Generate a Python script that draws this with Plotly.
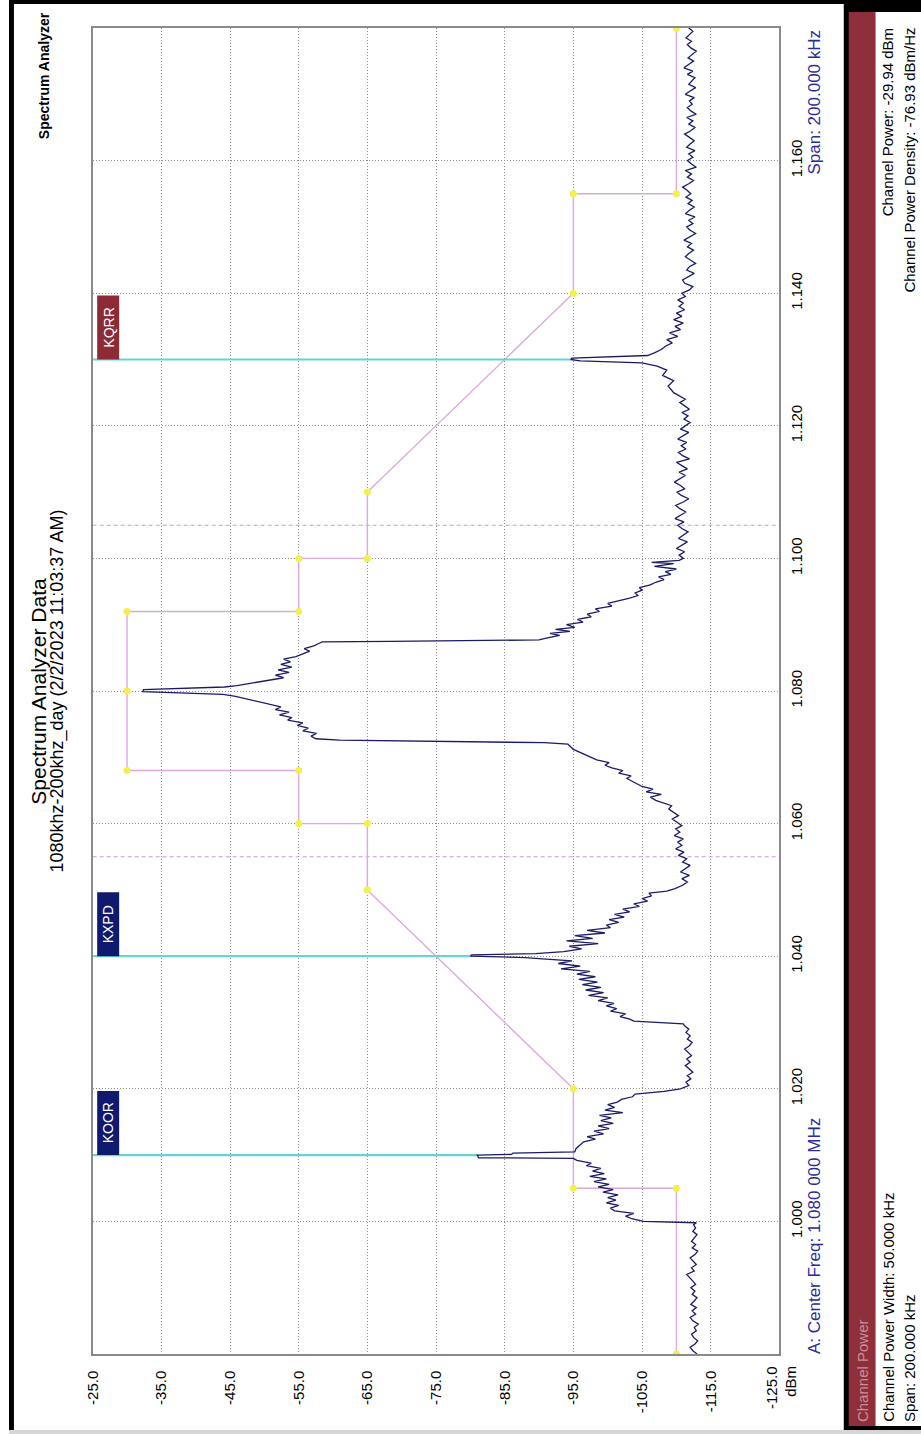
import plotly.graph_objects as go

W, H = 921, 1434

# ---- spectrum trace, piece by piece: frequency (MHz) and level (dBm) ----
# noise floor below the band
FLOOR_LOW_F = [0.9800, 0.9805, 0.9810, 0.9815, 0.9820, 0.9825, 0.9830, 0.9835, 0.9840, 0.9845,
               0.9850, 0.9855, 0.9860, 0.9865, 0.9870, 0.9875, 0.9880, 0.9885, 0.9890, 0.9895,
               0.9900, 0.9905, 0.9910, 0.9915, 0.9920, 0.9925, 0.9930, 0.9935, 0.9940, 0.9945,
               0.9950, 0.9955, 0.9960, 0.9965, 0.9970, 0.9975, 0.9980, 0.9985, 0.9990, 0.9995,
               0.9998]
FLOOR_LOW_DB = [-113.0, -112.4, -112.0, -112.7, -113.1, -112.5, -112.2, -112.9, -112.6, -113.2,
                -112.4, -112.0, -112.8, -112.3, -112.9, -112.1, -112.6, -113.0, -112.3, -112.7,
                -112.1, -112.8, -112.4, -111.9, -111.5, -112.6, -112.2, -112.9, -112.4, -112.0,
                -112.7, -113.1, -112.3, -112.8, -112.2, -112.6, -113.0, -112.4, -112.8, -112.5,
                -112.9]

# KOOR band
KOOR_F = [1.0000, 1.0004, 1.0008, 1.0012, 1.0016, 1.0020, 1.0024, 1.0028, 1.0032, 1.0036,
          1.0040, 1.0044, 1.0048, 1.0052, 1.0056, 1.0060, 1.0064, 1.0068, 1.0072, 1.0076,
          1.0080, 1.0084, 1.0088, 1.0092,
          1.0095, 1.0096, 1.0100, 1.0101, 1.0103, 1.0105, 1.0110, 1.0115, 1.0120,
          1.0124, 1.0128, 1.0132, 1.0136, 1.0140, 1.0144, 1.0148, 1.0152, 1.0156, 1.0160,
          1.0164, 1.0168, 1.0172, 1.0176, 1.0180, 1.0184, 1.0188, 1.0192, 1.0196, 1.0200]
KOOR_DB = [-105.2, -103.5, -102.6, -103.8, -101.0, -100.4, -101.6, -99.8, -101.2, -100.0,
           -101.5, -99.3, -100.8, -98.6, -100.2, -98.0, -99.8, -97.4, -99.5, -97.8,
           -99.0, -96.9, -97.6, -95.5,
           -95.0, -81.2, -81.0, -86.0, -86.2, -95.2, -95.4, -96.0, -96.5,
           -98.2, -97.0, -99.4, -98.0, -100.2, -98.6, -100.8, -99.0, -100.5, -98.8,
           -102.2, -99.6, -101.0, -100.0, -101.4, -102.0, -103.6, -104.0, -108.2, -110.6]

# floor between KOOR and KXPD
FLOOR_1_F = [1.0205, 1.0210, 1.0215, 1.0220, 1.0225, 1.0230, 1.0235, 1.0240, 1.0245, 1.0250,
             1.0255, 1.0260, 1.0265, 1.0270, 1.0275, 1.0280, 1.0285, 1.0290, 1.0295, 1.0298]
FLOOR_1_DB = [-111.8, -111.4, -112.1, -111.6, -112.4, -111.9, -111.3, -112.0, -111.5, -112.2,
              -111.7, -111.2, -111.9, -112.3, -111.6, -112.0, -111.4, -111.8, -111.2, -111.0]

# KXPD band
KXPD_F = [1.0302,
          1.0305, 1.0309, 1.0313, 1.0317, 1.0321, 1.0325, 1.0329, 1.0333, 1.0337, 1.0341,
          1.0345, 1.0349, 1.0353, 1.0357, 1.0361, 1.0365, 1.0369, 1.0373, 1.0377, 1.0381,
          1.0385, 1.0389, 1.0393,
          1.0396, 1.0398, 1.0400, 1.0402, 1.0404, 1.0407,
          1.0411, 1.0415, 1.0419, 1.0423, 1.0427, 1.0431, 1.0435, 1.0439, 1.0443, 1.0447,
          1.0451, 1.0455, 1.0459, 1.0463, 1.0467, 1.0471, 1.0475, 1.0479, 1.0483, 1.0487,
          1.0491, 1.0495,
          1.0498]
KXPD_DB = [-103.8,
           -103.2, -101.8, -102.6, -100.4, -101.3, -99.8, -100.9, -98.6, -100.0, -97.2,
           -99.4, -96.8, -99.0, -96.3, -98.5, -95.8, -98.2, -95.5, -97.4, -93.2,
           -96.0, -92.8, -94.8,
           -90.5, -88.0, -80.0, -80.2, -89.5, -93.6,
           -96.2, -94.4, -98.6, -94.0, -97.8, -95.2, -99.6, -97.0, -100.4, -99.8,
           -101.6, -100.2, -102.4, -101.0, -103.2, -102.2, -104.6, -103.8, -105.8, -105.0,
           -106.4, -106.0,
           -108.6]

# floor between KXPD and the centre channel
FLOOR_2_F = [1.0502, 1.0507, 1.0512, 1.0517, 1.0522, 1.0527, 1.0532, 1.0537, 1.0542, 1.0547,
             1.0552, 1.0557, 1.0562, 1.0567, 1.0572, 1.0577, 1.0582, 1.0587, 1.0592, 1.0597,
             1.0602, 1.0607, 1.0612, 1.0617, 1.0622, 1.0627]
FLOOR_2_DB = [-109.8, -110.9, -111.6, -110.8, -111.9, -110.6, -111.4, -112.0, -110.9, -111.5,
              -110.3, -111.1, -109.9, -110.8, -110.2, -111.0, -109.7, -110.5, -109.9, -110.8,
              -110.1, -109.4, -110.3, -109.6, -108.9, -109.3]

# centre channel, 1080 kHz
MAIN_F = [1.0635, 1.0640, 1.0644, 1.0648, 1.0652, 1.0656, 1.0660, 1.0664, 1.0668, 1.0672,
          1.0676, 1.0680, 1.0684, 1.0688, 1.0692, 1.0696, 1.0700, 1.0704, 1.0708, 1.0712,
          1.0716, 1.0720,
          1.0722, 1.0723, 1.0724, 1.0725, 1.0726, 1.0728,
          1.0732, 1.0736, 1.0740, 1.0744, 1.0748, 1.0752, 1.0756, 1.0760, 1.0764, 1.0768,
          1.0772, 1.0776, 1.0780, 1.0784, 1.0788, 1.0792,
          1.0795, 1.0797, 1.0799, 1.0802, 1.0804, 1.0806,
          1.0808, 1.0812, 1.0816, 1.0820, 1.0824, 1.0828, 1.0832, 1.0836, 1.0840, 1.0844,
          1.0848, 1.0852, 1.0856, 1.0860, 1.0864, 1.0868, 1.0872,
          1.0874, 1.0875, 1.0876, 1.0877, 1.0880, 1.0884, 1.0887, 1.0890, 1.0893, 1.0896,
          1.0900, 1.0904, 1.0908, 1.0912, 1.0916, 1.0920, 1.0924, 1.0928, 1.0932, 1.0936,
          1.0940, 1.0944, 1.0948, 1.0952, 1.0956, 1.0960, 1.0964, 1.0968, 1.0972, 1.0976,
          1.0980, 1.0984,
          1.0988, 1.0992, 1.0994, 1.0997]
MAIN_DB = [-107.0, -106.2, -107.8, -105.6, -106.6, -105.0, -104.2, -103.6, -102.8, -103.4,
           -101.6, -102.2, -100.6, -99.6, -100.2, -98.4, -97.6, -96.6, -95.8, -95.0,
           -94.6, -94.2,
           -90.8, -85.0, -78.6, -68.4, -61.0, -57.5,
           -56.8, -57.6, -55.6, -56.4, -54.8, -55.6, -53.4, -54.0, -52.2, -53.6,
           -51.6, -52.4, -50.8, -49.0, -47.2, -45.8,
           -44.0, -38.0, -32.3, -32.4, -40.5, -44.2,
           -46.0, -48.2, -51.0, -52.8, -51.6, -53.6, -52.0, -54.0, -52.4, -53.8,
           -52.8, -54.6, -55.6, -56.6, -55.8, -57.2, -58.0,
           -58.4, -68.4, -78.2, -90.0, -91.2, -93.0, -91.6, -94.5, -92.4, -95.2,
           -94.0, -96.4, -95.6, -97.6, -97.0, -98.8, -98.2, -100.6, -100.0, -101.8,
           -103.2, -104.4, -104.0, -105.0, -104.6, -106.2, -107.0, -108.2, -107.4, -109.2,
           -108.4, -110.0,
           -106.8, -109.6, -106.4, -110.4]

# floor between the centre channel and KQRR
FLOOR_3_F = [1.1000, 1.1005, 1.1010, 1.1015, 1.1020, 1.1025, 1.1030, 1.1035, 1.1040, 1.1045,
             1.1050, 1.1055, 1.1060, 1.1065, 1.1070, 1.1075, 1.1080, 1.1085, 1.1090, 1.1095,
             1.1100, 1.1105, 1.1110, 1.1115, 1.1120, 1.1125, 1.1130, 1.1135, 1.1140, 1.1145,
             1.1150, 1.1155, 1.1160, 1.1165, 1.1170, 1.1175, 1.1180, 1.1185, 1.1190, 1.1195,
             1.1200, 1.1205, 1.1210, 1.1215, 1.1220, 1.1225, 1.1230, 1.1235, 1.1240, 1.1245,
             1.1250]
FLOOR_3_DB = [-111.0, -110.4, -111.2, -110.0, -110.9, -111.6, -110.3, -111.0, -111.7, -110.8,
              -110.2, -111.1, -109.8, -110.6, -111.4, -110.5, -109.9, -111.0, -111.8, -110.7,
              -110.1, -111.2, -110.6, -109.7, -110.5, -111.3, -110.4, -111.6, -110.8, -110.0,
              -111.9, -110.9, -110.3, -111.4, -110.7, -111.5, -110.2, -111.0, -111.8, -110.6,
              -111.3, -112.0, -111.1, -111.7, -110.8, -111.9, -111.2, -110.5, -111.3, -110.4,
              -109.6]

# KQRR
KQRR_F = [1.1260, 1.1268, 1.1276, 1.1284, 1.1290, 1.1295, 1.1298, 1.1300, 1.1302, 1.1304,
          1.1306, 1.1310, 1.1315, 1.1320, 1.1325, 1.1330, 1.1335, 1.1340, 1.1345, 1.1350,
          1.1355, 1.1360, 1.1365, 1.1370, 1.1375, 1.1380, 1.1385]
KQRR_DB = [-108.8, -109.6, -108.0, -108.6, -107.2, -105.0, -96.0, -94.6, -94.8, -102.0,
           -105.8, -106.8, -107.8, -108.4, -109.4, -108.6, -110.2, -109.0, -110.6, -109.8,
           -111.0, -109.6, -110.8, -110.0, -111.2, -110.4, -111.0]

# noise floor above the band
FLOOR_HIGH_F = [1.1390, 1.1395, 1.1400, 1.1405, 1.1410, 1.1415, 1.1420, 1.1425, 1.1430, 1.1435,
                1.1440, 1.1445, 1.1450, 1.1455, 1.1460, 1.1465, 1.1470, 1.1475, 1.1480, 1.1485,
                1.1490, 1.1495, 1.1500, 1.1505, 1.1510, 1.1515, 1.1520, 1.1525, 1.1530, 1.1535,
                1.1540, 1.1545, 1.1550, 1.1555, 1.1560, 1.1565, 1.1570, 1.1575, 1.1580, 1.1585,
                1.1590, 1.1595, 1.1600, 1.1605, 1.1610, 1.1615, 1.1620, 1.1625, 1.1630, 1.1635,
                1.1640, 1.1645, 1.1650, 1.1655, 1.1660, 1.1665, 1.1670, 1.1675, 1.1680, 1.1685,
                1.1690, 1.1695, 1.1700, 1.1705, 1.1710, 1.1715, 1.1720, 1.1725, 1.1730, 1.1735,
                1.1740, 1.1745, 1.1750, 1.1755, 1.1760, 1.1765, 1.1770, 1.1775, 1.1780, 1.1785,
                1.1790, 1.1795, 1.1800]
FLOOR_HIGH_DB = [-110.2, -111.3, -110.8, -111.9, -112.4, -111.2, -110.9, -111.8, -112.6, -111.5,
                 -111.9, -112.8, -112.1, -111.3, -111.8, -112.5, -111.6, -112.2, -111.1, -111.9,
                 -112.8, -112.0, -111.5, -112.4, -111.8, -112.7, -111.3, -111.9, -112.6, -111.7,
                 -112.3, -111.4, -112.1, -111.6, -110.9, -111.8, -112.5, -111.6, -112.2, -111.3,
                 -112.9, -112.2, -111.6, -112.4, -111.8, -112.7, -111.5, -112.0, -112.6, -111.9,
                 -111.2, -112.1, -112.7, -111.8, -112.4, -111.5, -112.9, -112.1, -111.6, -112.3,
                 -111.9, -112.6, -111.3, -112.0, -112.8, -111.8, -112.2, -112.7, -111.6, -112.4,
                 -111.1, -111.9, -112.5, -111.7, -112.3, -112.9, -112.1, -111.6, -112.2, -111.4,
                 -111.9, -112.4, -111.8]

FREQ_MHZ = (FLOOR_LOW_F + KOOR_F + FLOOR_1_F + KXPD_F + FLOOR_2_F + MAIN_F
            + FLOOR_3_F + KQRR_F + FLOOR_HIGH_F)
LEVEL_DBM = (FLOOR_LOW_DB + KOOR_DB + FLOOR_1_DB + KXPD_DB + FLOOR_2_DB + MAIN_DB
             + FLOOR_3_DB + KQRR_DB + FLOOR_HIGH_DB)
assert len(FREQ_MHZ) == len(LEVEL_DBM)

# ---- axes ----
DBM_TICKS = [-25.0, -35.0, -45.0, -55.0, -65.0, -75.0, -85.0, -95.0, -105.0, -115.0, -125.0]
DBM_LABELS = ["-25.0", "-35.0", "-45.0", "-55.0", "-65.0", "-75.0", "-85.0",
              "-95.0", "-105.0", "-115.0", ""]
LAST_DBM_LABEL = "-125.0"
DBM_UNIT = "dBm"
FREQ_TICKS = [1.000, 1.020, 1.040, 1.060, 1.080, 1.100, 1.120, 1.140, 1.160]
FREQ_LABELS = ["1.000", "1.020", "1.040", "1.060", "1.080", "1.100", "1.120", "1.140", "1.160"]
FREQ_RANGE = [0.98, 1.18]
DBM_RANGE = [-25.0, -125.0]

# ---- spectral mask (limit line) ----
MASK_FREQ = [0.980, 1.005, 1.005, 1.020, 1.050, 1.060, 1.060, 1.068, 1.068, 1.080,
             1.092, 1.092, 1.100, 1.100, 1.110, 1.140, 1.155, 1.155, 1.180]
MASK_DBM = [-110, -110, -95, -95, -65, -65, -55, -55, -30, -30,
            -30, -55, -55, -65, -65, -95, -95, -110, -110]

# ---- channel power integration bounds ----
CHANNEL_EDGES = [1.055, 1.105]

# ---- station markers ----
MARKER_NAMES = ["KOOR", "KXPD", "KQRR"]
MARKER_FREQ = [1.010, 1.040, 1.130]
MARKER_DBM = [-81.0, -80.0, -94.6]
MARKER_COLORS = ["#0f1a6e", "#0f1a6e", "#8c2b36"]

# ---- text ----
TITLE = "Spectrum Analyzer Data"
SUBTITLE = "1080khz-200khz_day (2/2/2023 11:03:37 AM)"
APP_TAG = "Spectrum Analyzer"
CENTER_TEXT = "A: Center Freq: 1.080 000 MHz"
SPAN_TEXT = "Span: 200.000 kHz"
PANEL_HEADER = "Channel Power"
PANEL_LEFT = ["Channel Power Width: 50.000 kHz", "Span: 200.000 kHz"]
PANEL_RIGHT = ["Channel Power: -29.94 dBm", "Channel Power Density: -76.93 dBm/Hz"]

FONT = "Liberation Sans, Arial, sans-serif"

# plot frame in pixels (left, top, right, bottom)
PL, PT, PR, PB = 84.5, 28, 778, 1354


def fx(px):
    return px / W


def fy(py):
    return 1 - py / H


fig = go.Figure()

for f in CHANNEL_EDGES:
    fig.add_trace(go.Scatter(x=DBM_RANGE, y=[f, f], mode="lines",
                             line=dict(color="#d197d4", width=1, dash="4px,3px"),
                             hoverinfo="skip", showlegend=False))

fig.add_trace(go.Scatter(x=MASK_DBM, y=MASK_FREQ, mode="lines",
                         line=dict(color="#dba9de", width=1.4),
                         hoverinfo="skip", showlegend=False))

for f, p in zip(MARKER_FREQ, MARKER_DBM):
    fig.add_trace(go.Scatter(x=[DBM_RANGE[0], p], y=[f, f], mode="lines",
                             line=dict(color="#66d3d8", width=2.2),
                             hoverinfo="skip", showlegend=False))

fig.add_trace(go.Scatter(x=LEVEL_DBM, y=FREQ_MHZ, mode="lines",
                         line=dict(color="#1b1b68", width=1.3),
                         showlegend=False))

fig.add_trace(go.Scatter(x=MASK_DBM, y=MASK_FREQ, mode="markers",
                         marker=dict(color="#f3f04c", size=7),
                         hoverinfo="skip", showlegend=False))

shapes = []
annotations = []

# station label boxes
for name, f, col in zip(MARKER_NAMES, MARKER_FREQ, MARKER_COLORS):
    shapes.append(dict(type="rect", xref="x", yref="y",
                       xsizemode="pixel", ysizemode="pixel",
                       xanchor=DBM_RANGE[0], yanchor=f,
                       x0=4.5, x1=26.5, y0=0, y1=64,
                       fillcolor=col, line=dict(width=0), layer="above"))
    annotations.append(dict(xref="x", yref="y", x=DBM_RANGE[0], y=f,
                            xshift=15.5, yshift=32, text=name, textangle=-90,
                            showarrow=False, xanchor="center", yanchor="middle",
                            font=dict(family=FONT, size=14, color="white")))

# outer frame and right-hand channel power panel
shapes += [
    dict(type="rect", xref="paper", yref="paper", x0=fx(0), x1=fx(5), y0=fy(1430), y1=fy(0),
         fillcolor="black", line=dict(width=0)),
    dict(type="rect", xref="paper", yref="paper", x0=fx(0), x1=fx(W), y0=fy(4), y1=fy(0),
         fillcolor="black", line=dict(width=0)),
    dict(type="rect", xref="paper", yref="paper", x0=fx(0), x1=fx(W), y0=fy(H), y1=fy(1430),
         fillcolor="#d6d6d6", line=dict(width=0)),
    dict(type="rect", xref="paper", yref="paper", x0=fx(843), x1=fx(W), y0=fy(1430), y1=fy(0),
         fillcolor="black", line=dict(width=0)),
    dict(type="rect", xref="paper", yref="paper", x0=fx(848), x1=fx(875), y0=fy(1426), y1=fy(12),
         fillcolor="#8e2f3b", line=dict(width=0)),
    dict(type="rect", xref="paper", yref="paper", x0=fx(875), x1=fx(W), y0=fy(1426), y1=fy(12),
         fillcolor="white", line=dict(width=0)),
]


def rot_text(text, x, y, size, color="black", yanchor="middle", bold=False):
    if bold:
        text = "<b>" + text + "</b>"
    return dict(xref="paper", yref="paper", x=fx(x), y=fy(y), text=text,
                textangle=-90, showarrow=False, xanchor="center", yanchor=yanchor,
                font=dict(family=FONT, size=size, color=color))


annotations += [
    rot_text(APP_TAG, 36, 10, 14, yanchor="top", bold=True),
    rot_text(TITLE, 29, (PT + PB) / 2, 21),
    rot_text(SUBTITLE, 48, (PT + PB) / 2, 18),
    rot_text(CENTER_TEXT, 813, PB + 2, 17, color="#2b2b9c", yanchor="bottom"),
    rot_text(SPAN_TEXT, 813, PT, 17, color="#2b2b9c", yanchor="top"),
    rot_text(LAST_DBM_LABEL, 770, PB + 10, 15, yanchor="top"),
    rot_text(DBM_UNIT, 789, PB + 10, 15, yanchor="top"),
    rot_text(PANEL_HEADER, 862, 1424, 15, color="#c88f99", yanchor="bottom"),
    rot_text(PANEL_LEFT[0], 888, 1424, 15, yanchor="bottom"),
    rot_text(PANEL_LEFT[1], 909, 1424, 15, yanchor="bottom"),
    rot_text(PANEL_RIGHT[0], 888, 26, 15, yanchor="top"),
    rot_text(PANEL_RIGHT[1], 909, 26, 15, yanchor="top"),
]

grid = dict(showgrid=True, gridcolor="#8c8c8c", gridwidth=1, griddash="1px,2px",
            showline=True, linecolor="#8a8a8a", linewidth=1.5, mirror=True,
            zeroline=False, ticks="", tickangle=-90,
            tickfont=dict(family=FONT, size=15, color="black"))

fig.update_layout(
    width=W, height=H,
    margin=dict(l=0, r=0, t=0, b=0),
    paper_bgcolor="white", plot_bgcolor="white",
    showlegend=False,
    xaxis=dict(domain=[fx(PL), fx(PR)], range=DBM_RANGE,
               tickvals=DBM_TICKS, ticktext=DBM_LABELS, ticklabelstandoff=9, **grid),
    yaxis=dict(domain=[fy(PB), fy(PT)], range=FREQ_RANGE, side="right",
               tickvals=FREQ_TICKS, ticktext=FREQ_LABELS, ticklabelstandoff=3, **grid),
    shapes=shapes,
    annotations=annotations,
)

fig.write_html("out.html")
